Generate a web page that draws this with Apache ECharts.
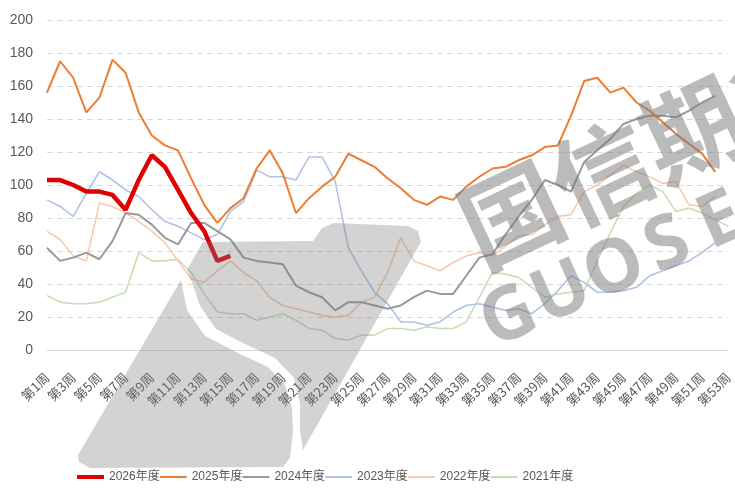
<!DOCTYPE html>
<html>
<head>
<meta charset="utf-8">
<script src="https://cdn.jsdelivr.net/npm/echarts@6/dist/echarts.min.js"></script>
<style>
  html, body { margin: 0; padding: 0; background: #fff; }
  #chart { width: 735px; height: 488px; }
</style>
</head>
<body>
<div id="chart"></div>
<script>
/**
 * weekly data, one array per year
 */
var weeks = ['第1周','第2周','第3周','第4周','第5周','第6周','第7周','第8周','第9周','第10周',
    '第11周','第12周','第13周','第14周','第15周','第16周','第17周','第18周','第19周','第20周',
    '第21周','第22周','第23周','第24周','第25周','第26周','第27周','第28周','第29周','第30周',
    '第31周','第32周','第33周','第34周','第35周','第36周','第37周','第38周','第39周','第40周',
    '第41周','第42周','第43周','第44周','第45周','第46周','第47周','第48周','第49周','第50周',
    '第51周','第52周','第53周'];

var y2026 = [103,103,100,96,96,94,85,103,118,111,97,83,72,54,57];
var y2025 = [156,175,165,144,153,176,168,144,130,124,121,104,88,77,86,92,110,121,107,83,
    92,99,105,119,115,111,104,98,91,88,93,91,99,105,110,111,115,118,123,124,
    142,163,165,156,159,150,145,138,131,125,119,108];
var y2024 = [62,54,56,59,55,66,83,82,76,68,64,77,77,72,67,56,54,53,52,39,
    35,32,24,29,29,27,25,27,32,36,34,34,45,56,58,70,81,91,103,100,
    96,114,121,128,137,140,142,142,141,145,150,154];
var y2023 = [91,87,81,95,108,103,97,93,85,78,75,71,67,70,84,90,109,105,105,103,
    117,117,102,62,48,35,28,17,17,15,17,23,27,28,26,24,25,22,28,36,
    45,41,35,35,36,38,45,48,51,54,59,65];
var y2022 = [72,67,57,54,89,87,83,78,72,65,54,43,41,48,54,47,42,32,27,25,
    23,21,20,21,29,32,47,68,54,51,48,53,57,59,57,63,69,70,76,81,
    82,96,100,106,112,108,105,101,102,88,87,93];
var y2021 = [33,29,28,28,29,32,35,59,54,54,55,47,34,23,22,22,18,20,22,18,
    13,12,7,6,9,9,13,13,12,14,13,13,17,32,47,46,44,38,32,34,
    35,36,54,71,87,95,100,96,84,86,83,79,75];

var yearNames = ['2026年度','2025年度','2024年度','2023年度','2022年度','2021年度'];
var yearData = [y2026, y2025, y2024, y2023, y2022, y2021];
var yearColors = ['#e00000','#ed7d31','#999999','#b0c3e6','#f8cbad','#c5e0b4'];
var yearWidths = [4.5, 2, 2, 1.6, 1.6, 1.6];
// legend icons: thick bar for the current year, thin bar for the others
var thickIcon = 'path://M0,0M0,3H27V7H0ZM27,10';
var thinIcon = 'path://M0,0M0,4H27V6H0ZM27,10';

var numFont = '"Liberation Sans", "Noto Sans CJK SC", sans-serif';
var cjkFont = '"Noto Sans CJK SC", sans-serif';

var chart = echarts.init(document.getElementById('chart'));

var series = [];
var legendData = [];
for (var i = 0; i < yearNames.length; i++) {
    series.push({
        name: yearNames[i],
        type: 'line',
        data: yearData[i],
        symbol: 'none',
        z: 10 - i,
        lineStyle: { color: yearColors[i], width: yearWidths[i] },
        itemStyle: { color: yearColors[i] }
    });
    legendData.push({ name: yearNames[i], icon: i == 0 ? thickIcon : thinIcon });
}

// watermark (logo + company name), drawn over the lines
var wmFill = 'rgba(120,120,120,0.33)';
var wmText = 'rgba(120,120,120,0.5)';
var watermark = [
    {
        type: 'polygon', z: 100, silent: true,
        shape: { points: [[203,242],[313,241],[322,228],[334,223],[408,226],[418,231],[421,242],
            [303,450],[300,431],[300,404],[294,378],[275,358],[243,343],[216,329],[200,306],[192,282],[187,270]] },
        style: { fill: wmFill }
    },
    {
        type: 'polygon', z: 100, silent: true,
        shape: { points: [[181,280],[187,310],[205,336],[238,353],[268,367],[285,385],[292,408],
            [293,432],[290,458],[283,467],[90,468],[79,462],[78,455]] },
        style: { fill: wmFill }
    },
    {
        type: 'text', z: 100, silent: true, x: 466, y: 236, rotation: 0.44,
        style: { text: '国信期货', font: 'bold 100px "Noto Sans CJK SC"', fill: wmText,
            align: 'left', verticalAlign: 'middle' }
    }
];
// GUOSEN letters, spaced out along the same slant
var wmLetters = 'GUOSEN';
for (var k = 0; k < wmLetters.length; k++) {
    watermark.push({
        type: 'text', z: 100, silent: true,
        x: 509 + k * 53, y: 318 - k * 24, rotation: 0.42,
        style: { text: wmLetters.charAt(k), font: 'bold 74px "Noto Sans"', fill: wmText,
            align: 'center', verticalAlign: 'middle' }
    });
}

var option = {
    animation: false,
    backgroundColor: '#fff',
    grid: { left: 47, right: 4, top: 20, bottom: 138 },
    legend: {
        data: legendData,
        left: 72,
        top: 466,
        itemWidth: 27,
        itemHeight: 10,
        itemGap: 0,
        textStyle: { color: '#595959', fontSize: 12, fontFamily: numFont }
    },
    xAxis: {
        type: 'category',
        data: weeks,
        boundaryGap: false,
        axisLine: { lineStyle: { color: '#d9d9d9', width: 1 } },
        axisTick: { show: false },
        axisLabel: {
            interval: 1,
            rotate: 45,
            margin: 25,
            color: '#595959',
            fontSize: 13,
            fontFamily: cjkFont
        },
        splitLine: { show: false }
    },
    yAxis: {
        type: 'value',
        min: 0,
        max: 200,
        interval: 20,
        axisLine: { show: false },
        axisTick: { show: false },
        axisLabel: { color: '#595959', fontSize: 14, margin: 14, fontFamily: numFont },
        splitLine: { lineStyle: { color: '#d9d9d9', type: [6, 4], width: 1 } }
    },
    graphic: watermark,
    series: series
};
chart.setOption(option);
</script>
</body>
</html>
